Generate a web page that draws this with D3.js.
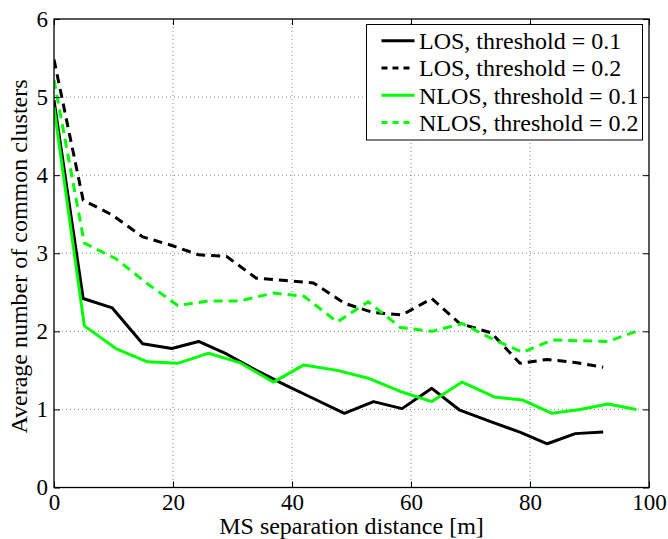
<!DOCTYPE html>
<html>
<head>
<meta charset="utf-8">
<script src="https://cdn.jsdelivr.net/npm/d3@7"></script>
<style>
  html, body { margin: 0; padding: 0; background: #fff; }
  svg { display: block; }
</style>
</head>
<body>
<svg id="chart" width="668" height="539"></svg>
<script>
// ---- data ----
const xTicks = [0, 20, 40, 60, 80, 100];
const yTicks = [0, 1, 2, 3, 4, 5, 6];

const losX = [0, 4.9, 9.8, 14.9, 19.8, 24.3, 29.0, 34.0, 38.9, 43.6, 48.8, 53.7, 58.5, 63.5, 68.2, 73.5, 78.3, 82.9, 87.6, 92.3];
const losT01 = [4.96, 2.42, 2.30, 1.84, 1.78, 1.87, 1.71, 1.50, 1.31, 1.14, 0.95, 1.10, 1.01, 1.27, 0.99, 0.84, 0.71, 0.56, 0.69, 0.71];
const losT02 = [5.48, 3.68, 3.49, 3.21, 3.10, 2.98, 2.96, 2.68, 2.65, 2.62, 2.36, 2.24, 2.21, 2.42, 2.10, 1.98, 1.59, 1.64, 1.60, 1.54];

const nlosX = [0, 5.1, 10.4, 15.7, 20.8, 26.0, 31.2, 36.9, 42.0, 47.6, 52.8, 58.2, 63.5, 68.6, 74.0, 78.8, 83.7, 88.4, 93.1, 97.9];
const nlosT01 = [4.87, 2.07, 1.78, 1.61, 1.59, 1.72, 1.60, 1.35, 1.57, 1.50, 1.40, 1.23, 1.10, 1.35, 1.16, 1.12, 0.95, 1.00, 1.07, 1.00];
const nlosT02 = [5.22, 3.13, 2.93, 2.61, 2.33, 2.39, 2.39, 2.49, 2.45, 2.12, 2.38, 2.05, 2.00, 2.10, 1.89, 1.73, 1.89, 1.88, 1.87, 2.00];

const seriesNames = ["LOS, threshold = 0.1", "LOS, threshold = 0.2", "NLOS, threshold = 0.1", "NLOS, threshold = 0.2"];
const xLabel = "MS separation distance [m]";
const yLabel = "Average number of common clusters";

// ---- layout ----
const FONT = "Liberation Serif";
const svg = d3.select("#chart");
const pL = 54, pR = 649, pT = 19, pB = 487.5;
const x = d3.scaleLinear().domain([0, 100]).range([pL, pR]);
const y = d3.scaleLinear().domain([0, 6]).range([pB, pT]);

const series = [
  { name: seriesNames[0], xs: losX, ys: losT01, color: "#000", dash: null },
  { name: seriesNames[1], xs: losX, ys: losT02, color: "#000", dash: "9,6" },
  { name: seriesNames[2], xs: nlosX, ys: nlosT01, color: "#00ff00", dash: null },
  { name: seriesNames[3], xs: nlosX, ys: nlosT02, color: "#00ff00", dash: "9,6" }
];

// grid
const grid = svg.append("g");
grid.selectAll(".gx").data(xTicks.slice(1, -1)).enter().append("line")
  .attr("x1", d => x(d)).attr("x2", d => x(d)).attr("y1", pT).attr("y2", pB)
  .attr("stroke", "#888").attr("stroke-width", 1).attr("stroke-dasharray", "1,3");
grid.selectAll(".gy").data(yTicks.slice(1, -1)).enter().append("line")
  .attr("y1", d => y(d)).attr("y2", d => y(d)).attr("x1", pL).attr("x2", pR)
  .attr("stroke", "#888").attr("stroke-width", 1).attr("stroke-dasharray", "1,3");

// data lines
svg.append("clipPath").attr("id", "clip").append("rect")
  .attr("x", pL).attr("y", pT).attr("width", pR - pL).attr("height", pB - pT);
const line = d3.line().x(d => x(d[0])).y(d => y(d[1]));
svg.append("g").attr("clip-path", "url(#clip)").selectAll("path").data(series).enter().append("path")
  .attr("d", s => line(s.xs.map((v, i) => [v, s.ys[i]])))
  .attr("fill", "none").attr("stroke", s => s.color).attr("stroke-width", 3)
  .attr("stroke-dasharray", s => s.dash).attr("stroke-linejoin", "round");

// axes
const fsTick = 23, fs = 24;
const xAxis = d3.axisBottom(x).tickValues(xTicks).tickSize(-6).tickPadding(6).tickFormat(d3.format("d"));
const gx = svg.append("g").attr("transform", `translate(0,${pB})`).call(xAxis)
  .attr("font-family", FONT).attr("font-size", fsTick);
gx.select(".domain").remove();
gx.selectAll("line").attr("stroke", "#000");

const xTop = d3.axisTop(x).tickValues(xTicks).tickSize(-6).tickFormat("");
const gxt = svg.append("g").attr("transform", `translate(0,${pT})`).call(xTop);
gxt.select(".domain").remove();

const yAxis = d3.axisLeft(y).tickValues(yTicks).tickSize(-6).tickPadding(6).tickFormat(d3.format("d"));
const gy = svg.append("g").attr("transform", `translate(${pL},0)`).call(yAxis)
  .attr("font-family", FONT).attr("font-size", fsTick);
gy.select(".domain").remove();

const yRight = d3.axisRight(y).tickValues(yTicks).tickSize(-6).tickFormat("");
const gyr = svg.append("g").attr("transform", `translate(${pR},0)`).call(yRight);
gyr.select(".domain").remove();

svg.append("rect").attr("x", pL).attr("y", pT).attr("width", pR - pL).attr("height", pB - pT)
  .attr("fill", "none").attr("stroke", "#000").attr("stroke-width", 1.3);

// axis labels
svg.append("text").attr("x", (pL + pR) / 2).attr("y", 534).attr("text-anchor", "middle")
  .attr("font-family", FONT).attr("font-size", fs).text(xLabel);
svg.append("text").attr("transform", `translate(27,256.5) rotate(-90)`)
  .attr("text-anchor", "middle").attr("font-family", FONT).attr("font-size", fs).text(yLabel);

// legend
const lg = svg.append("g");
lg.append("rect").attr("x", 366.5).attr("y", 24.5).attr("width", 276).attr("height", 115.5)
  .attr("fill", "#fff").attr("stroke", "#000").attr("stroke-width", 1);
series.forEach((s, i) => {
  const cy = 40.7 + i * 27.3;
  lg.append("line").attr("x1", 381.5).attr("x2", 414.5).attr("y1", cy).attr("y2", cy)
    .attr("stroke", s.color).attr("stroke-width", 3).attr("stroke-dasharray", s.dash ? "6,5" : null);
  lg.append("text").attr("x", 419).attr("y", cy).attr("dy", "0.35em")
    .attr("font-family", FONT).attr("font-size", fs).text(s.name);
});
</script>
</body>
</html>
